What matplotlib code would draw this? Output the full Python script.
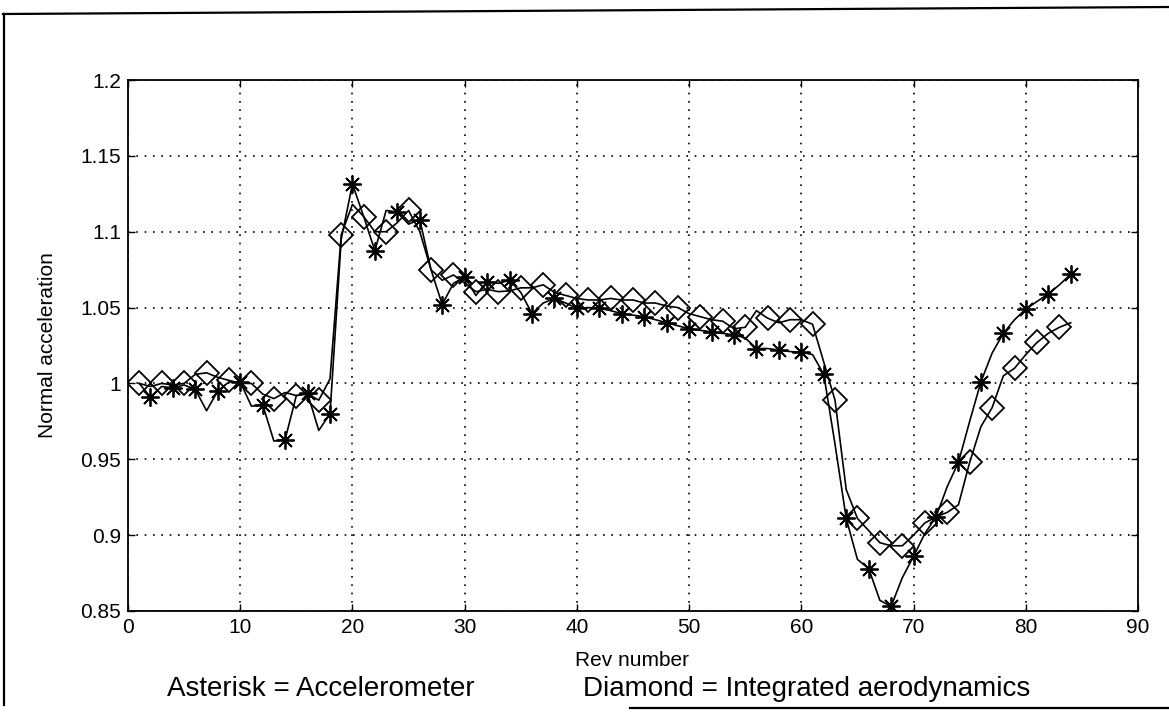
import matplotlib
matplotlib.use("Agg")
import matplotlib.pyplot as plt
from matplotlib.lines import Line2D
import numpy as np

plt.rcParams['font.family'] = ['Liberation Sans', 'DejaVu Sans']

rev = list(range(1, 85))

accelerometer = [
    1.000, 0.991, 0.998, 0.997, 0.999, 0.996, 0.982, 0.995, 1.001, 1.001,
    0.985, 0.986, 0.962, 0.963, 0.992, 0.9935, 0.969, 0.980, 1.095, 1.1315,
    1.110, 1.0875, 1.114, 1.113, 1.105, 1.108, 1.075, 1.052, 1.066, 1.070,
    1.058, 1.067, 1.066, 1.068, 1.060, 1.046, 1.053, 1.056, 1.053, 1.0495,
    1.050, 1.0495, 1.048, 1.046, 1.045, 1.044, 1.042, 1.040, 1.038, 1.036,
    1.035, 1.034, 1.033, 1.032, 1.030, 1.023, 1.023, 1.022, 1.021, 1.0205,
    1.019, 1.006, 0.960, 0.911, 0.884, 0.878, 0.857, 0.853, 0.872, 0.886,
    0.901, 0.912, 0.932, 0.948, 0.975, 1.001, 1.020, 1.033, 1.042, 1.049,
    1.054, 1.059, 1.065, 1.072,
]

aerodynamics = [
    1.000, 0.998, 1.000, 0.999, 1.000, 1.006, 1.007, 1.004, 1.002, 1.000,
    1.000, 0.993, 0.990, 0.994, 0.992, 0.993, 0.989, 1.003, 1.098, 1.118,
    1.110, 1.100, 1.100, 1.106, 1.114, 1.100, 1.075, 1.068, 1.0715, 1.066,
    1.0605, 1.062, 1.0605, 1.061, 1.063, 1.063, 1.065, 1.060, 1.058, 1.056,
    1.055, 1.055, 1.056, 1.055, 1.055, 1.053, 1.053, 1.051, 1.050, 1.046,
    1.044, 1.042, 1.041, 1.036, 1.037, 1.048, 1.043, 1.040, 1.042, 1.042,
    1.039, 1.014, 0.989, 0.930, 0.911, 0.903, 0.895, 0.893, 0.893, 0.900,
    0.908, 0.912, 0.915, 0.920, 0.948, 0.9715, 0.984, 1.005, 1.010, 1.019,
    1.027, 1.033, 1.037, 1.040,
]

xticks = [0, 10, 20, 30, 40, 50, 60, 70, 80, 90]
yticks = [0.85, 0.9, 0.95, 1.0, 1.05, 1.1, 1.15, 1.2]
yticklabels = ['0.85', '0.9', '0.95', '1', '1.05', '1.1', '1.15', '1.2']

W, H = 1169, 724
fig = plt.figure(figsize=(W / 100, H / 100), dpi=100)
ax = fig.add_axes([128 / W, 1 - 611 / H, (1138 - 128) / W, (611 - 80) / H])

ast_marker = (8, 2, 0)
ax.plot(rev, accelerometer, color='black', lw=1.2,
        marker=ast_marker, markevery=(1, 2), markersize=13, mew=1.3, mec='black')
ax.plot(rev, aerodynamics, color='black', lw=1.2,
        marker='D', markevery=(0, 2), markersize=12, mew=1.3, mec='black', mfc='none')

ax.set_xlim(0, 90)
ax.set_ylim(0.85, 1.2)
ax.set_xticks(xticks)
ax.set_yticks(yticks)
ax.set_yticklabels(yticklabels)
ax.tick_params(direction='in', length=5, width=1, top=True, right=True,
               labelsize=15, colors='black', pad=5)
ax.grid(True, linestyle=(0, (1, 4)), color='black', linewidth=1.2)
for s in ax.spines.values():
    s.set_linewidth(1.3)
    s.set_color('black')

fig.text(48 / W, 1 - 345 / H, 'Normal acceleration', fontsize=15,
         rotation=90, ha='center', va='center')
fig.text(632 / W, 1 - 660 / H, 'Rev number', fontsize=15, ha='center', va='center')
fig.text(321 / W, 1 - 689 / H, 'Asterisk = Accelerometer', fontsize=20,
         ha='center', va='center')
fig.text(807 / W, 1 - 689 / H, 'Diamond = Integrated aerodynamics', fontsize=20,
         ha='center', va='center')

# scanned frame around the figure
def fline(x0, y0, x1, y1, lw=1.6):
    fig.add_artist(Line2D([x0 / W, x1 / W], [1 - y0 / H, 1 - y1 / H],
                          color='black', lw=lw))

fline(3, 14, 1169, 7)
fline(4, 14, 4, 705)
fline(630, 708, 1169, 708)

fig.savefig('out.png', dpi=100)
